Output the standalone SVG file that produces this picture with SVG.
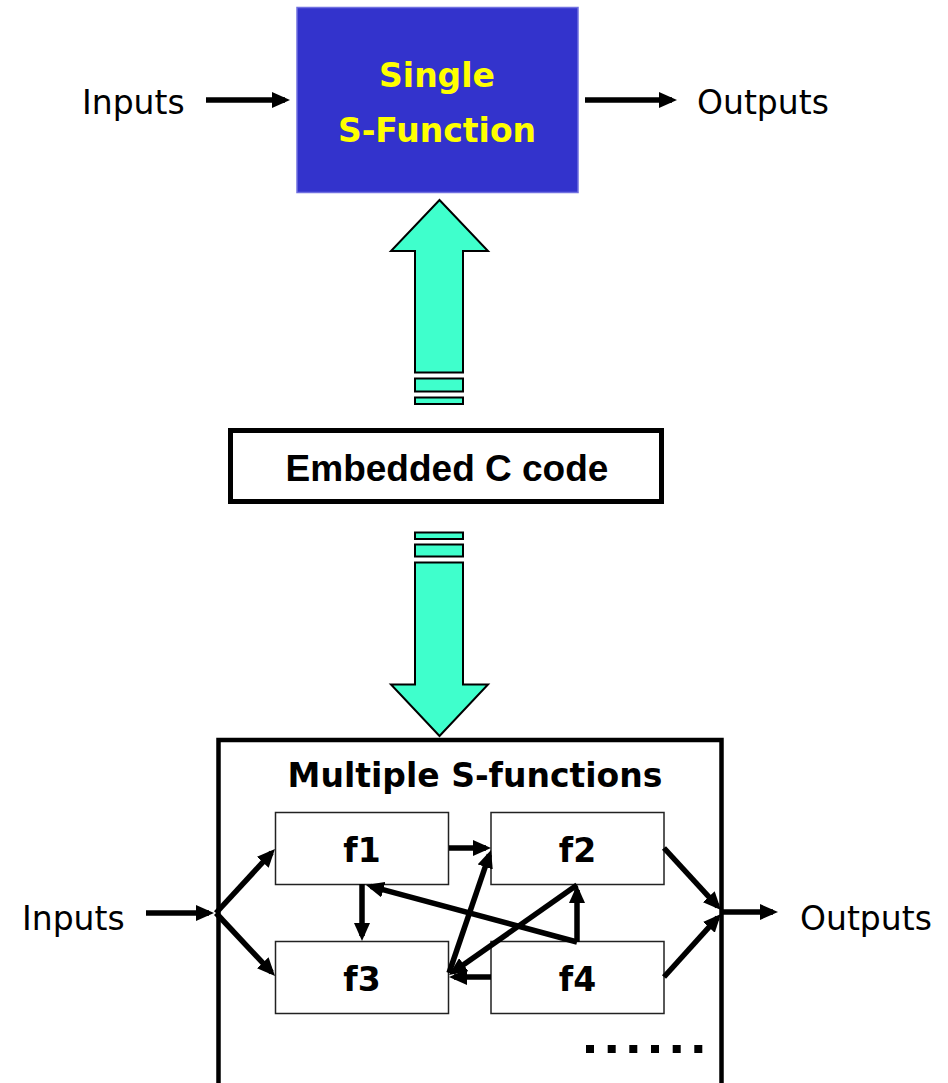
<svg xmlns="http://www.w3.org/2000/svg" width="948" height="1083" viewBox="0 0 948 1083">
<defs>
<marker id="ah" markerUnits="userSpaceOnUse" markerWidth="18" markerHeight="16" refX="13" refY="8" orient="auto" viewBox="0 0 18 16">
<path d="M0,0 L18,8 L0,16 z" fill="#000"/>
</marker>
</defs>
<style>
.lbl{font-family:"DejaVu Sans",Verdana,sans-serif;font-size:33px;fill:#000}
.bold{font-family:"DejaVu Sans",Verdana,sans-serif;font-size:33px;font-weight:bold;fill:#000}
.arial{font-family:"Liberation Sans",Arial,sans-serif;font-size:37px;font-weight:bold;fill:#000}
.fbox{fill:#fff;stroke:#222;stroke-width:1.5}
.fat{fill:#3FFFCC;stroke:#000;stroke-width:2}
.conn line{stroke:#000;stroke-width:5.5;fill:none;marker-end:url(#ah)}
</style>
<rect width="948" height="1083" fill="#fff"/>

<g id="single-sfunction">
<rect x="297" y="7.5" width="281" height="185" fill="#3333CC" stroke="#7070E0" stroke-width="1.5"/>
<text x="437" y="87" text-anchor="middle" class="bold" style="fill:#FFFF00">Single</text>
<text x="437" y="141.5" text-anchor="middle" class="bold" style="fill:#FFFF00">S-Function</text>
</g>
<g id="top-inputs"><text x="82" y="114" class="lbl">Inputs</text></g>
<g id="top-outputs"><text x="697" y="114" class="lbl">Outputs</text></g>

<g id="up-arrow">
<polygon class="fat" points="439.5,200 488,251 463,251 463,372.5 415,372.5 415,251 391,251"/>
<rect class="fat" x="415" y="378.5" width="48" height="13"/>
<rect class="fat" x="415" y="397.5" width="48" height="6.5"/>
</g>

<g id="embedded-c">
<rect x="230.5" y="430.5" width="431" height="71" fill="#fff" stroke="#000" stroke-width="5"/>
<text x="447" y="481" text-anchor="middle" class="arial">Embedded C code</text>
</g>

<g id="down-arrow">
<rect class="fat" x="415" y="532.5" width="48" height="6.5"/>
<rect class="fat" x="415" y="544.5" width="48" height="12"/>
<polygon class="fat" points="415,562.5 463,562.5 463,684.5 488,684.5 439.5,736 391,684.5 415,684.5"/>
</g>

<g id="multiple-sfunctions">
<rect x="218.5" y="740" width="503" height="380" fill="none" stroke="#000" stroke-width="4.5"/>
<text x="475" y="787" text-anchor="middle" class="bold">Multiple S-functions</text>
</g>

<g id="f1"><rect class="fbox" x="275.5" y="812.5" width="173" height="72"/><text x="362" y="862" text-anchor="middle" class="bold">f1</text></g>
<g id="f2"><rect class="fbox" x="491" y="812.5" width="173" height="72"/><text x="577.5" y="862" text-anchor="middle" class="bold">f2</text></g>
<g id="f3"><rect class="fbox" x="275.5" y="941.5" width="173" height="72"/><text x="362" y="991" text-anchor="middle" class="bold">f3</text></g>
<g id="f4"><rect class="fbox" x="491" y="941.5" width="173" height="72"/><text x="577.5" y="991" text-anchor="middle" class="bold">f4</text></g>

<g id="bottom-inputs"><text x="22" y="930" class="lbl">Inputs</text></g>
<g id="bottom-outputs"><text x="800" y="930" class="lbl">Outputs</text></g>

<g id="dots" fill="#000">
<rect x="586" y="1045" width="8" height="8"/>
<rect x="607.7" y="1045" width="8" height="8"/>
<rect x="629.3" y="1045" width="8" height="8"/>
<rect x="651" y="1045" width="8" height="8"/>
<rect x="672.7" y="1045" width="8" height="8"/>
<rect x="694.3" y="1045" width="8" height="8"/>
</g>

<g id="connectors" class="conn">
<line x1="206" y1="100" x2="285" y2="100"/>
<line x1="585" y1="100" x2="672" y2="100"/>
<line x1="146" y1="913" x2="209" y2="913"/>
<line x1="216" y1="913" x2="271.6" y2="852.7"/>
<line x1="216" y1="913" x2="271.6" y2="972.3"/>
<line x1="449" y1="848" x2="486" y2="848"/>
<line x1="362" y1="884" x2="362" y2="936"/>
<line x1="577" y1="942" x2="370.8" y2="886.3"/>
<line x1="577" y1="942" x2="577" y2="890"/>
<line x1="577" y1="885" x2="453.1" y2="972.1"/>
<line x1="449" y1="973" x2="489.4" y2="854.7"/>
<line x1="491" y1="977" x2="454" y2="977"/>
<line x1="664" y1="848" x2="717.6" y2="906.3"/>
<line x1="664" y1="977" x2="717.6" y2="917.7"/>
<line x1="721" y1="912" x2="773" y2="912"/>
</g>
</svg>
